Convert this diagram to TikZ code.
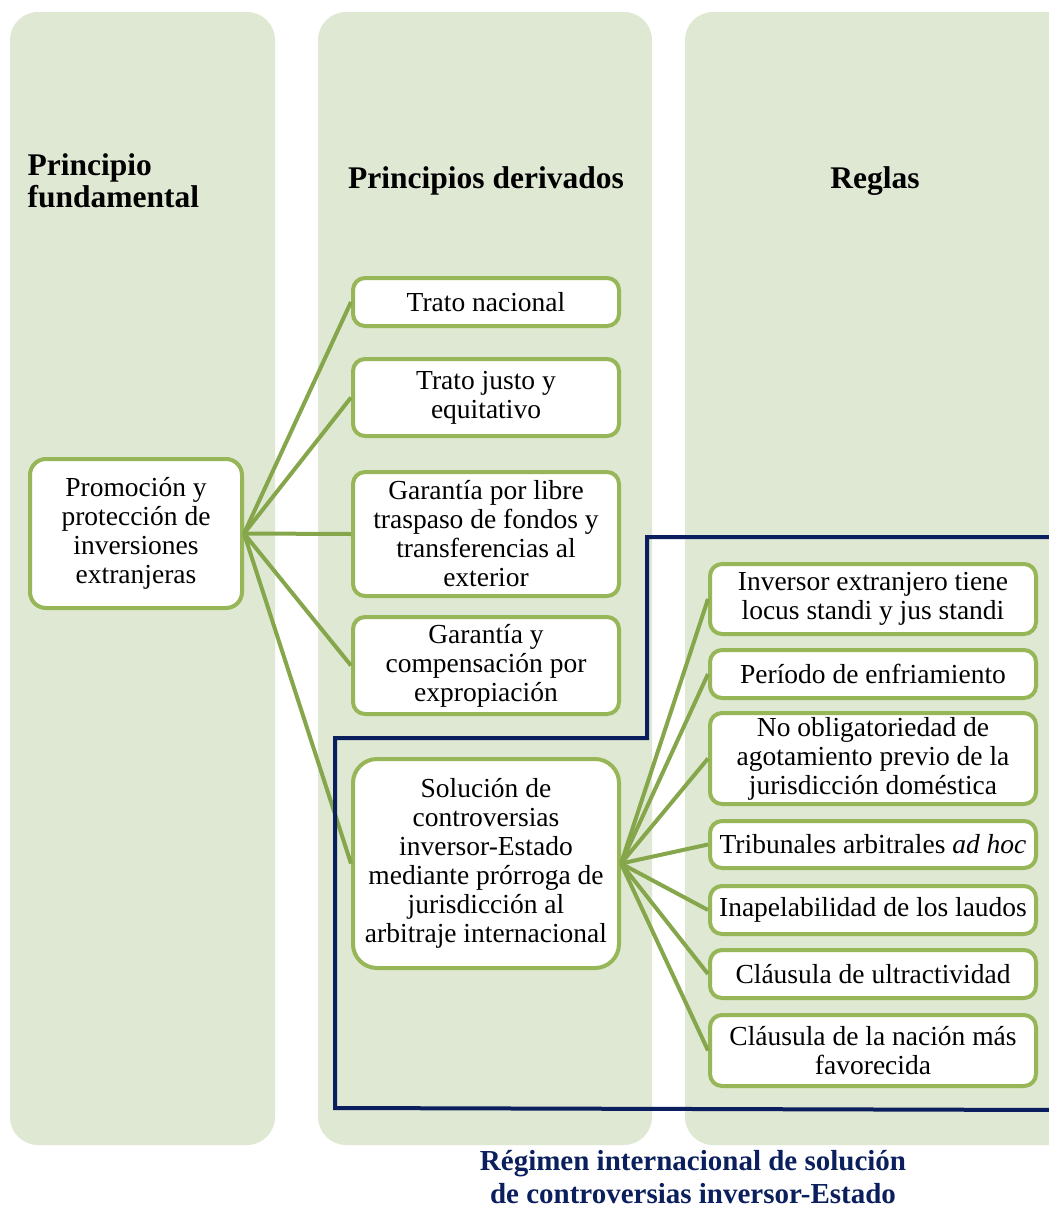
\documentclass[tikz,border=0pt]{standalone}
\usepackage{fontspec}
\setmainfont{Liberation Serif}
\usepackage{xcolor}
\usetikzlibrary{positioning}

\definecolor{colbg}{HTML}{DFE8D3}
\definecolor{boxgreen}{HTML}{97B657}
\definecolor{linkgreen}{HTML}{86A64B}
\definecolor{navy}{HTML}{0B1F5E}

\begin{document}
\begin{tikzpicture}[
  x=1pt, y=-1pt,
  font=\fontsize{27.5}{29}\selectfont,
  column/.style={fill=colbg, rounded corners=28pt},
  block/.style={rectangle, draw=boxgreen, line width=4pt, fill=white, rounded corners=12pt, align=center, inner sep=2pt},
  derivedblock/.style={block, minimum width=266pt},
  ruleblock/.style={block, minimum width=326pt},
  link/.style={draw=linkgreen, line width=4pt},
  header/.style={font=\fontsize{31.5}{32}\selectfont\bfseries},
  regime/.style={navy, line width=4pt}
]
\useasboundingbox (0,0) rectangle (1049,1210);
\clip (0,0) rectangle (1049,1210);

% Columns
\fill[column] (10,12) rectangle (275,1145);
\fill[column] (318,12) rectangle (652,1145);
\fill[column] (685,12) rectangle (1090,1145);

% Headers
\node[header, anchor=west, align=left] (hfund) at (24,181) {Principio\\fundamental};
\node[header] (hderiv) at (486,181) {Principios derivados};
\node[header] (hrules) at (875,181) {Reglas};

% Fundamental principle
\node[block, minimum width=212pt, minimum height=149pt, rounded corners=16pt] (promo) at (136,533.5) {Promoción y\\protección de\\inversiones\\extranjeras};

% Derived principles
\node[derivedblock, minimum height=48pt] (trato) at (486,302) {Trato nacional};
\node[derivedblock, minimum height=77pt] (justo) at (486,397.5) {Trato justo y\\equitativo};
\node[derivedblock, minimum height=124pt] (fondos) at (486,534) {Garantía por libre\\traspaso de fondos y\\transferencias al\\exterior};
\node[derivedblock, minimum height=97pt] (expro) at (486,665.5) {Garantía y\\compensación por\\expropiación};
\node[derivedblock, minimum height=209pt, rounded corners=24pt] (solucion) at (486,863.5) {Solución de\\controversias\\inversor-Estado\\mediante prórroga de\\jurisdicción al\\arbitraje internacional};

% Rules
\node[ruleblock, minimum height=70pt] (locus) at (873,599) {Inversor extranjero tiene\\locus standi y jus standi};
\node[ruleblock, minimum height=48pt] (enfria) at (873,674) {Período de enfriamiento};
\node[ruleblock, minimum height=91pt] (agota) at (873,758.5) {No obligatoriedad de\\agotamiento previo de la\\jurisdicción doméstica};
\node[ruleblock, minimum height=47pt] (adhoc) at (873,844.5) {Tribunales arbitrales \textit{ad hoc}};
\node[ruleblock, minimum height=48pt] (laudos) at (873,910) {Inapelabilidad de los laudos};
\node[ruleblock, minimum height=48pt] (ultra) at (873,974) {Cláusula de ultractividad};
\node[ruleblock, minimum height=71pt] (nmf) at (873,1050.5) {Cláusula de la nación más\\favorecida};

% Links
\foreach \d in {trato,justo,fondos,expro,solucion}
  \draw[link] (promo.east) -- (\d.west);
\foreach \r in {locus,enfria,agota,adhoc,laudos,ultra,nmf}
  \draw[link] (solucion.east) -- (\r.west);

% Regime boundary
\draw[regime] (1060,537) -- (647,537) -- (647,738) -- (335,738) -- (335,1108) -- (1060,1110);

\node[navy, font=\fontsize{29}{33}\selectfont\bfseries, align=center, inner sep=0pt] (regimen) at (693,1177) {Régimen internacional de solución\\de controversias inversor-Estado};

\end{tikzpicture}
\end{document}
